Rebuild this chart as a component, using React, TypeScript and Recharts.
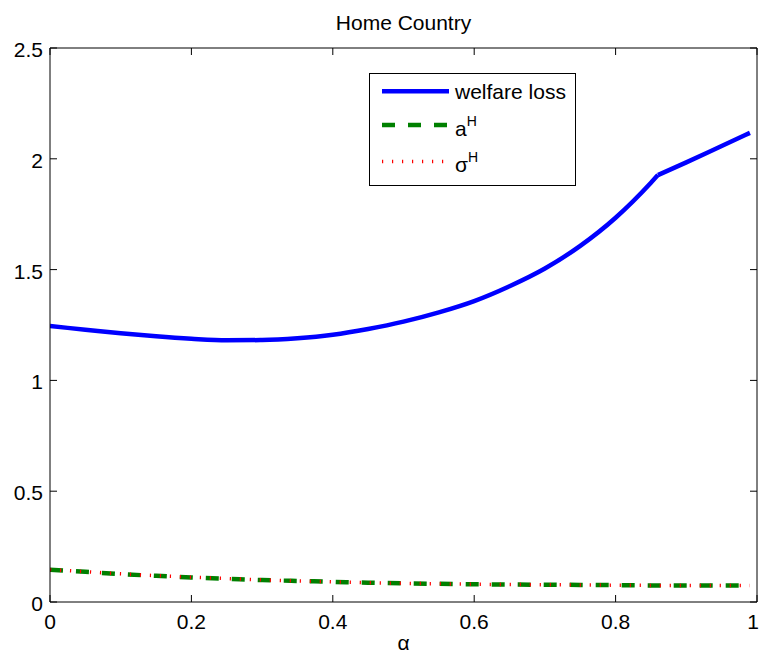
import React from 'react';
import { LineChart, Line, XAxis, YAxis, Legend, Label } from 'recharts';

// alpha grid (x) and the three series
const alpha = [0, 0.05, 0.1, 0.15, 0.2, 0.25, 0.3, 0.35, 0.4, 0.45, 0.5, 0.55, 0.6, 0.65, 0.7, 0.75, 0.8, 0.85, 0.86, 0.9, 0.95, 0.99];
const welfareLoss = [1.245, 1.229, 1.213, 1.199, 1.188, 1.181, 1.182, 1.19, 1.206, 1.232, 1.265, 1.307, 1.358, 1.425, 1.505, 1.607, 1.734, 1.892, 1.927, 1.984, 2.058, 2.117];
const aHome = [0.145, 0.136, 0.126, 0.118, 0.111, 0.105, 0.099, 0.095, 0.091, 0.087, 0.084, 0.082, 0.08, 0.079, 0.078, 0.077, 0.076, 0.075, 0.075, 0.075, 0.074, 0.074];
const sigmaHome = [0.146, 0.137, 0.127, 0.119, 0.112, 0.106, 0.1, 0.095, 0.091, 0.087, 0.084, 0.082, 0.08, 0.079, 0.078, 0.077, 0.076, 0.075, 0.075, 0.075, 0.074, 0.074];
// the welfare curve has a kink here
const kinkAlpha = 0.86;

const xTicks = [0, 0.2, 0.4, 0.6, 0.8, 1];
const yTicks = [0, 0.5, 1, 1.5, 2, 2.5];

const data = alpha.map((a, i) => ({
  alpha: a,
  welfareLow: a <= kinkAlpha ? welfareLoss[i] : null,
  welfareHigh: a >= kinkAlpha ? welfareLoss[i] : null,
  aH: aHome[i],
  sigmaH: sigmaHome[i],
}));

const series = [
  { key: 'welfare', name: 'welfare loss', sup: '', color: '#0000ff', width: 4.5, dash: undefined as string | undefined },
  { key: 'aH', name: 'a', sup: 'H', color: '#008000', width: 4.5, dash: '13 13' },
  { key: 'sigmaH', name: 'σ', sup: 'H', color: '#ff0000', width: 3.5, dash: '1.2 8.8' },
];

const FONT = '"Liberation Sans", Arial, Helvetica, sans-serif';
const FS = 21;
const TICK = 7;
const W = 759;

const BottomTick = ({ x, y, payload }: any) => {
  // keep the last label ("1") inside the picture
  const edge = x + 6 > W;
  return (
    <g>
      <line x1={x} y1={y} x2={x} y2={y - TICK} stroke="#000" />
      <text
        x={edge ? W : x}
        y={y + 27}
        textAnchor={edge ? 'end' : 'middle'}
        fontSize={FS}
        fontFamily={FONT}
        fill="#000"
      >
        {String(payload.value)}
      </text>
    </g>
  );
};

const TopTick = ({ x, y }: any) => <line x1={x} y1={y} x2={x} y2={y + TICK} stroke="#000" />;

const LeftTick = ({ x, y, payload }: any) => (
  <g>
    <line x1={x} y1={y} x2={x + TICK} y2={y} stroke="#000" />
    <text x={x - 7} y={y + 9} textAnchor="end" fontSize={FS} fontFamily={FONT} fill="#000">
      {String(payload.value)}
    </text>
  </g>
);

const RightTick = ({ x, y }: any) => <line x1={x} y1={y} x2={x - TICK} y2={y} stroke="#000" />;

const TitleLabel = ({ viewBox }: any) => (
  <text x={viewBox.x + viewBox.width / 2} y={30} textAnchor="middle" fontSize={FS} fontFamily={FONT} fill="#000">
    Home Country
  </text>
);

const AlphaLabel = ({ viewBox }: any) => (
  <text x={viewBox.x + viewBox.width / 2} y={650} textAnchor="middle" fontSize={FS} fontFamily={FONT} fill="#000">
    α
  </text>
);

const rowY = [18.3, 52, 88.4];
const textY = [26, 63, 98.5];

const LegendBox = () => (
  <svg width={207} height={113} style={{ display: 'block' }}>
    <rect x={0.5} y={0.5} width={206} height={112} fill="#fff" stroke="#000" />
    {series.map((s, i) => (
      <g key={s.key}>
        <line x1={13} y1={rowY[i]} x2={80} y2={rowY[i]} stroke={s.color} strokeWidth={s.width} strokeDasharray={s.dash} />
        <text x={86} y={textY[i]} fontSize={FS} fontFamily={FONT} fill="#000">
          {s.name}
          {s.sup ? (
            <tspan dy={-10} fontSize={14} fill="#000">
              {s.sup}
            </tspan>
          ) : null}
        </text>
      </g>
    ))}
  </svg>
);

export default function App() {
  return (
    <div style={{ position: 'absolute', left: 0, top: 0, width: 759, height: 655, background: '#fff' }}>
      <LineChart width={759} height={655} data={data} margin={{ top: 47, right: 1, bottom: 0, left: 0 }}>
        <XAxis
          dataKey="alpha"
          type="number"
          domain={[0, 1]}
          ticks={xTicks}
          interval={0}
          height={53}
          tickSize={0}
          tickMargin={0}
          tick={<BottomTick />}
          axisLine={{ stroke: '#000' }}
          allowDataOverflow
        >
          <Label content={<AlphaLabel />} />
        </XAxis>
        <XAxis
          xAxisId="top"
          dataKey="alpha"
          orientation="top"
          type="number"
          domain={[0, 1]}
          ticks={xTicks}
          interval={0}
          height={1}
          tickSize={0}
          tickMargin={0}
          tick={<TopTick />}
          axisLine={{ stroke: '#000' }}
          allowDataOverflow
        >
          <Label content={<TitleLabel />} />
        </XAxis>
        <YAxis
          type="number"
          domain={[0, 2.5]}
          ticks={yTicks}
          interval={0}
          width={50}
          tickSize={0}
          tickMargin={0}
          tick={<LeftTick />}
          axisLine={{ stroke: '#000' }}
          allowDataOverflow
        />
        <YAxis
          yAxisId="right"
          orientation="right"
          type="number"
          domain={[0, 2.5]}
          ticks={yTicks}
          interval={0}
          width={1}
          tickSize={0}
          tickMargin={0}
          tick={<RightTick />}
          axisLine={{ stroke: '#000' }}
          allowDataOverflow
        />
        {/* welfare loss: two smooth pieces meeting at the kink */}
        <Line type="monotone" dataKey="welfareLow" name="welfare loss" stroke={series[0].color} strokeWidth={series[0].width} dot={false} activeDot={false} isAnimationActive={false} />
        <Line type="monotone" dataKey="welfareHigh" name="welfare loss" stroke={series[0].color} strokeWidth={series[0].width} dot={false} activeDot={false} isAnimationActive={false} legendType="none" />
        {series.slice(1).map((s) => (
          <Line
            key={s.key}
            type="monotone"
            dataKey={s.key}
            name={s.name}
            stroke={s.color}
            strokeWidth={s.width}
            strokeDasharray={s.dash}
            dot={false}
            activeDot={false}
            isAnimationActive={false}
          />
        ))}
        <Legend
          layout="vertical"
          align="center"
          verticalAlign="middle"
          content={() => <LegendBox />}
          wrapperStyle={{ left: 369, top: 73, width: 207, height: 113 }}
        />
      </LineChart>
    </div>
  );
}
